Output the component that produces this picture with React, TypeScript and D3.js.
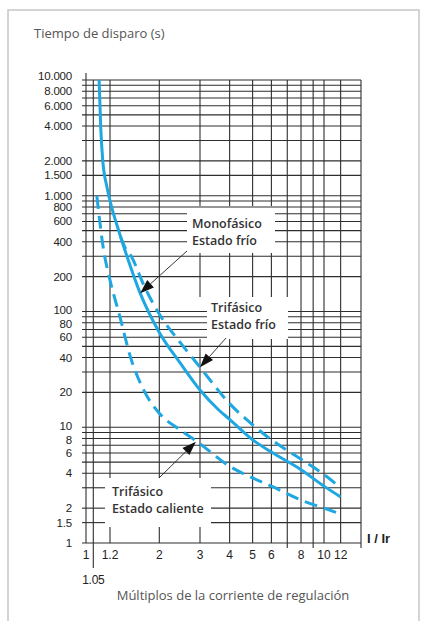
import React from 'react';
import * as d3 from 'd3';

// ---- data ----
const monoX = [1.1, 1.114, 1.132, 1.17, 1.22, 1.31, 1.4, 1.64, 2, 2.46, 3, 3.6, 4, 5, 6, 8, 10, 12];
const monoY = [10000, 3950, 2040, 1200, 800, 506, 340, 144, 66, 36, 21, 14.1, 11.7, 7.8, 6.1, 4.3, 3.1, 2.5];

const triFrioX = [1.34, 1.4, 1.5, 1.7, 2, 2.5, 3, 4, 5, 6, 8, 10, 12];
const triFrioY = [440, 360, 297, 170, 95, 52, 33, 16, 10.5, 7.8, 5.3, 3.9, 3.0];

const triCalX = [1.08, 1.14, 1.2, 1.33, 1.48, 1.7, 2, 2.46, 3, 4, 5, 6, 8, 10, 12];
const triCalY = [1000, 340, 187, 90, 41, 21, 13.2, 9.5, 7.2, 4.6, 3.65, 3.1, 2.35, 2.0, 1.78];

const xGridValues = [1.05, 1.2, 2, 3, 4, 5, 6, 7, 8, 9, 10, 12, 15];
const xTickValues = [1, 1.2, 2, 3, 4, 5, 6, 8, 10, 12];
const xTickLabels = ['1', '1.2', '2', '3', '4', '5', '6', '8', '10', '12'];
const xExtraTickValue = 1.05;
const xExtraTickLabel = '1.05';

const yGridValues = [
  1, 1.5, 2, 3, 4, 5, 6, 7, 8, 9,
  10, 20, 30, 40, 50, 60, 70, 80, 90,
  100, 200, 300, 400, 500, 600, 700, 800, 900,
  1000, 1500, 2000, 3000, 4000, 5000, 6000, 7000, 8000, 9000, 10000,
];
const yTickValues = [10000, 8000, 6000, 4000, 2000, 1500, 1000, 800, 600, 400, 200, 100, 80, 60, 40, 20, 10, 8, 6, 4, 2, 1.5, 1];
const yTickLabels = ['10.000', '8.000', '6.000', '4.000', '2.000', '1.500', '1.000', '800', '600', '400', '200', '100', '80', '60', '40', '20', '10', '8', '6', '4', '2', '1.5', '1'];

const annotations = [
  { lines: ['Monofásico', 'Estado frío'], target: [1.64, 144] },
  { lines: ['Trifásico', 'Estado frío'], target: [3, 33] },
  { lines: ['Trifásico', 'Estado caliente'], target: [2.88, 7.5] },
];

// ---- layout ----
const W = 424;
const H = 621;
const CURVE = '#1ea7e1';
const GRID = '#2e2e2e';

const boxLayout = [
  { tx: 192, ty: 228, h: [187, 275, 208, 254], v: [187, 275, 206, 253], tail: [187, 251] },
  { tx: 211, ty: 312, h: [207, 288, 298, 340], v: [198, 288, 297, 339], tail: [226, 338] },
  { tx: 112, ty: 496, h: [105, 211, 478, 528], v: [105, 211, 478, 527], tail: [159, 478] },
];

function labelNudge(v: number) {
  if (v === 10000) return -4;
  if (v === 100 || v === 10) return -1.5;
  if (v === 80 || v === 8) return 1.5;
  return 0;
}

function cut(a0: number, a1: number, pos: number, boxes: number[][], horizontal: boolean) {
  let segs: [number, number][] = [[a0, a1]];
  for (const b of boxes) {
    const [bx0, bx1, by0, by1] = b;
    const inside = horizontal ? pos >= by0 && pos <= by1 : pos >= bx0 && pos <= bx1;
    if (!inside) continue;
    const g0 = horizontal ? bx0 : by0;
    const g1 = horizontal ? bx1 : by1;
    const next: [number, number][] = [];
    for (const [s0, s1] of segs) {
      if (g1 <= s0 || g0 >= s1) { next.push([s0, s1]); continue; }
      if (g0 > s0) next.push([s0, g0]);
      if (g1 < s1) next.push([g1, s1]);
    }
    segs = next;
  }
  return segs;
}

export default function App() {
  const x = d3.scaleLog().domain([1, 1.05, 1.2, 2, 3, 10, 15]).range([86, 93.3, 110, 159.3, 200, 324, 361]);
  const y = d3.scaleLog().domain([1, 10000]).range([543, 80]);

  const line = d3.line<[number, number]>()
    .x((d) => x(d[0]))
    .y((d) => y(d[1]))
    .curve(d3.curveMonotoneX);

  const mono = monoX.map((v, i) => [v, monoY[i]] as [number, number]);
  const frio = triFrioX.map((v, i) => [v, triFrioY[i]] as [number, number]);
  const cal = triCalX.map((v, i) => [v, triCalY[i]] as [number, number]);

  const hBoxes = boxLayout.map((b) => b.h);
  const vBoxes = boxLayout.map((b) => b.v);

  const xLeft = 82;
  const xRight = x(15);
  const yTop = y(10000);
  const yBot = y(1);

  const gridLines: JSX.Element[] = [];
  yGridValues.forEach((v, i) => {
    const py = y(v);
    cut(xLeft, xRight, py, hBoxes, true).forEach(([a, b], j) => {
      gridLines.push(<line key={`h${i}-${j}`} x1={a} x2={b} y1={py} y2={py} />);
    });
  });
  xGridValues.forEach((v, i) => {
    const px = x(v);
    const unlabeled = !xTickValues.includes(v);
    const bottom = v === xExtraTickValue ? 568 : unlabeled ? yBot + 5 : yBot;
    cut(yTop, bottom, px, vBoxes, false).forEach(([a, b], j) => {
      gridLines.push(<line key={`v${i}-${j}`} x1={px} x2={px} y1={a} y2={b} />);
    });
  });

  const tickFont = '"Liberation Sans", Arial, sans-serif';
  const textFont = '"Open Sans", "Noto Sans", sans-serif';

  return (
    <svg width={W} height={H} style={{ position: 'absolute', left: 0, top: 0, background: '#fff' }}>
      <rect x={0} y={0} width={W} height={H} fill="#fff" />
      <path d={`M8,${H + 5}V10H419V${H + 5}`} fill="none" stroke="#c6c6c6" strokeWidth={1.5} />

      <text x={34} y={38} fontFamily={textFont} fontSize={13} fill="#555">Tiempo de disparo (s)</text>

      <g stroke={GRID} strokeWidth={1.1}>
        {gridLines}
        <line x1={x(1)} x2={x(1)} y1={73} y2={yBot} />
      </g>

      <g fontFamily={tickFont} fontSize={11.5} fill="#222" textAnchor="end">
        {yTickValues.map((v, i) => (
          <text key={i} x={72} y={y(v) + labelNudge(v)} dy="0.35em" letterSpacing={-0.2}>{yTickLabels[i]}</text>
        ))}
      </g>
      <g fontFamily={tickFont} fontSize={12} fill="#222" textAnchor="middle">
        {xTickValues.map((v, i) => (
          <text key={i} x={x(v)} y={559}>{xTickLabels[i]}</text>
        ))}
        <text x={x(xExtraTickValue)} y={584} letterSpacing={-0.3}>{xExtraTickLabel}</text>
      </g>
      <text x={367} y={543} fontFamily={tickFont} fontSize={13} fontWeight="bold" fill="#222">I / Ir</text>
      <text x={233} y={600} textAnchor="middle" fontFamily={textFont} fontSize={13} fill="#555">Múltiplos de la corriente de regulación</text>

      <g fill="none" stroke={CURVE} strokeWidth={3}>
        <path d={line(mono) ?? ''} />
        <path d={line(frio) ?? ''} strokeDasharray="13 7" />
        <path d={line(cal) ?? ''} strokeDasharray="13 7" />
      </g>

      {annotations.map((a, i) => {
        const L = boxLayout[i];
        const tipX = x(a.target[0]);
        const tipY = y(a.target[1]);
        const [tx0, ty0] = L.tail;
        const dx = tipX - tx0;
        const dy = tipY - ty0;
        const len = Math.hypot(dx, dy);
        const ux = dx / len;
        const uy = dy / len;
        const hl = 14;
        const hw = 5;
        const bx = tipX - ux * hl;
        const by = tipY - uy * hl;
        const head = `M${tipX},${tipY}L${bx - uy * hw},${by + ux * hw}L${bx + uy * hw},${by - ux * hw}Z`;
        return (
          <g key={i}>
            <line x1={tx0} y1={ty0} x2={bx} y2={by} stroke="#222" strokeWidth={0.9} />
            <path d={head} fill="#111" />
            {a.lines.map((t, j) => (
              <text key={j} x={L.tx} y={L.ty + j * 16.5} fontFamily={textFont} fontSize={12.5} fontWeight={600} fill="#333">{t}</text>
            ))}
          </g>
        );
      })}
    </svg>
  );
}
